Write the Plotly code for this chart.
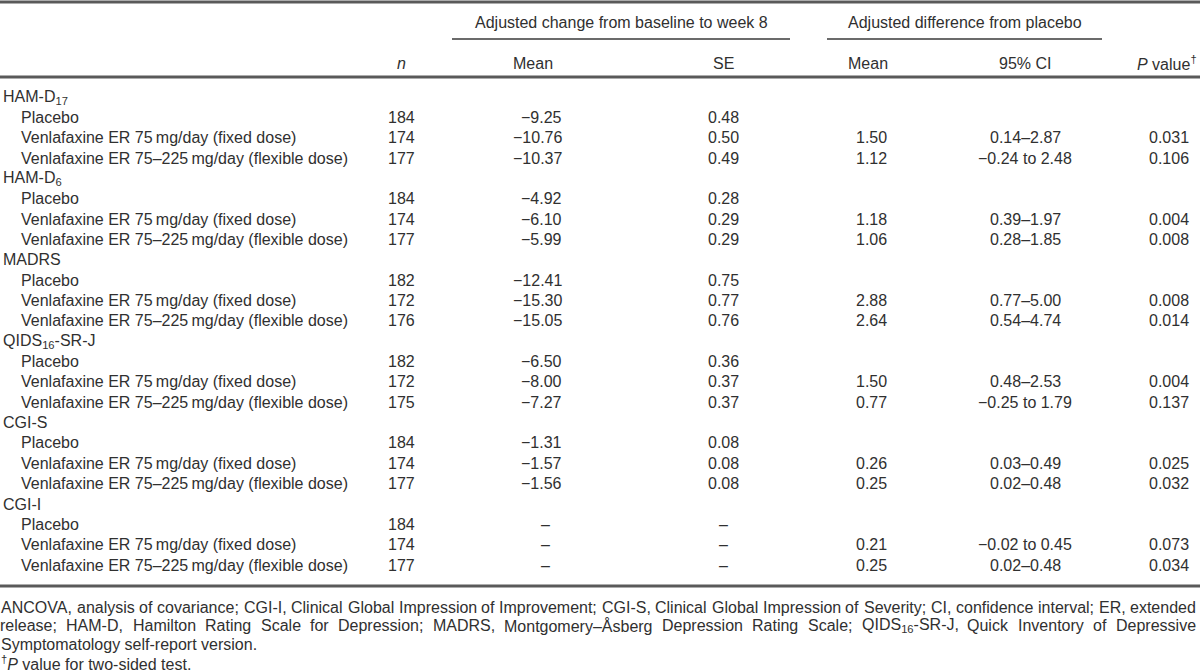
import re
import plotly.graph_objects as go

# ---------------- data ----------------
groups = ["HAM-D<sub>17</sub>", "HAM-D<sub>6</sub>", "MADRS",
          "QIDS<sub>16</sub>-SR-J", "CGI-S", "CGI-I"]
treatments = ["Placebo",
              "Venlafaxine ER 75\u2009mg/day (fixed dose)",
              "Venlafaxine ER 75\u2013225\u2009mg/day (flexible dose)"]
n_vals = [[184, 174, 177], [184, 174, 177], [182, 172, 176],
          [182, 172, 175], [184, 174, 177], [184, 174, 177]]
chg_mean = [["\u22129.25", "\u221210.76", "\u221210.37"],
            ["\u22124.92", "\u22126.10", "\u22125.99"],
            ["\u221212.41", "\u221215.30", "\u221215.05"],
            ["\u22126.50", "\u22128.00", "\u22127.27"],
            ["\u22121.31", "\u22121.57", "\u22121.56"],
            ["\u2013", "\u2013", "\u2013"]]
chg_se = [["0.48", "0.50", "0.49"],
          ["0.28", "0.29", "0.29"],
          ["0.75", "0.77", "0.76"],
          ["0.36", "0.37", "0.37"],
          ["0.08", "0.08", "0.08"],
          ["\u2013", "\u2013", "\u2013"]]
diff_mean = [["", "1.50", "1.12"],
             ["", "1.18", "1.06"],
             ["", "2.88", "2.64"],
             ["", "1.50", "0.77"],
             ["", "0.26", "0.25"],
             ["", "0.21", "0.25"]]
diff_ci = [["", "0.14\u20132.87", "\u22120.24 to 2.48"],
           ["", "0.39\u20131.97", "0.28\u20131.85"],
           ["", "0.77\u20135.00", "0.54\u20134.74"],
           ["", "0.48\u20132.53", "\u22120.25 to 1.79"],
           ["", "0.03\u20130.49", "0.02\u20130.48"],
           ["", "\u22120.02 to 0.45", "0.02\u20130.48"]]
p_vals = [["", "0.031", "0.106"],
          ["", "0.004", "0.008"],
          ["", "0.008", "0.014"],
          ["", "0.004", "0.137"],
          ["", "0.025", "0.032"],
          ["", "0.073", "0.034"]]

spanners = ["Adjusted change from baseline to week 8",
            "Adjusted difference from placebo"]
col_headers = ["<i>n</i>", "Mean", "SE", "Mean", "95% CI",
               "<i>P</i> value<sup>\u2020</sup>"]

footnote_lines = [
    "ANCOVA, analysis of covariance; CGI-I, Clinical Global Impression of Improvement; "
    "CGI-S, Clinical Global Impression of Severity; CI, confidence interval; ER, extended",
    "release; HAM-D, Hamilton Rating Scale for Depression; MADRS, Montgomery\u2013\u00c5sberg "
    "Depression Rating Scale; QIDS<sub>16</sub>-SR-J, Quick Inventory of Depressive",
    "Symptomatology self-report version.",
    "<sup>\u2020</sup><i>P</i> value for two-sided test.",
]

# ---------------- styling ----------------
FONT = "Liberation Sans, Arial, Helvetica, sans-serif"
FS = 16
TXT = "#303030"
RULE = "#5a5a5a"

W, H = 1200, 672
ROW0, ROWH = 97, 20.35
X_GROUP, X_SUB = 2, 20
X_N = 401          # center
X_MEAN_R = 563     # right edge
X_DASH = 545       # center for dash in mean col
X_SE = 723
X_DMEAN = 871
X_CI = 1025
X_P_R = 1190
Y_SPAN, Y_SPAN_LINE, Y_HEAD, Y_HEAD_RULE = 22, 39, 63, 77
Y_TOP_RULE = 2
Y_BOTTOM_RULE = 586
FOOT_Y = [607, 625.5, 644, 662.5]
SPAN1 = (452, 790)
SPAN2 = (827, 1102)

fig = go.Figure()


def txt(x, y, s, anchor="left", size=FS):
    fig.add_annotation(x=x, y=y, xref="x", yref="y", text=s, showarrow=False,
                       xanchor=anchor, yanchor="middle", borderpad=0,
                       font=dict(family=FONT, size=size, color=TXT))


def hline(x0, x1, y, width, color=RULE):
    fig.add_shape(type="line", xref="x", yref="y", x0=x0, x1=x1, y0=y, y1=y,
                  line=dict(color=color, width=width))


# rules
hline(0, W, Y_TOP_RULE, 3)
hline(0, W, Y_HEAD_RULE, 3)
hline(0, W, Y_BOTTOM_RULE, 3)
hline(SPAN1[0], SPAN1[1], Y_SPAN_LINE, 1.6, "#3a3a3a")
hline(SPAN2[0], SPAN2[1], Y_SPAN_LINE, 1.6, "#3a3a3a")

# headers
txt(sum(SPAN1) / 2, Y_SPAN, spanners[0], "center")
txt(sum(SPAN2) / 2, Y_SPAN, spanners[1], "center")
txt(X_N, Y_HEAD, col_headers[0], "center")
txt(533, Y_HEAD, col_headers[1], "center")
txt(X_SE, Y_HEAD, col_headers[2], "center")
txt(868, Y_HEAD, col_headers[3], "center")
txt(X_CI, Y_HEAD, col_headers[4], "center")
txt(1198, Y_HEAD, col_headers[5], "right")

# body
r = 0
for g, grp in enumerate(groups):
    txt(X_GROUP, ROW0 + r * ROWH, grp, "left")
    r += 1
    for t, trt in enumerate(treatments):
        y = ROW0 + r * ROWH
        txt(X_SUB, y, trt, "left")
        txt(X_N, y, str(n_vals[g][t]), "center")
        m = chg_mean[g][t]
        if m == "\u2013":
            txt(X_DASH, y, m, "center")
        else:
            txt(X_MEAN_R, y, m, "right")
        txt(X_SE, y, chg_se[g][t], "center")
        if diff_mean[g][t]:
            txt(X_DMEAN, y, diff_mean[g][t], "center")
            txt(X_CI, y, diff_ci[g][t], "center")
            txt(X_P_R, y, p_vals[g][t], "right")
        r += 1

# footnotes (first two lines justified)
AW = {' ': 278, ',': 278, ';': 278, '.': 278, '-': 333, '(': 333, ')': 333,
      '/': 278, '\u2013': 556, '\u00c5': 667,
      'A': 667, 'B': 667, 'C': 722, 'D': 722, 'E': 667, 'F': 611, 'G': 778,
      'H': 722, 'I': 278, 'J': 500, 'K': 667, 'L': 556, 'M': 833, 'N': 722,
      'O': 778, 'P': 667, 'Q': 778, 'R': 722, 'S': 667, 'T': 611, 'U': 722,
      'V': 667, 'W': 944, 'X': 667, 'Y': 667, 'Z': 611,
      'a': 556, 'b': 556, 'c': 500, 'd': 556, 'e': 556, 'f': 278, 'g': 556,
      'h': 556, 'i': 222, 'j': 222, 'k': 500, 'l': 222, 'm': 833, 'n': 556,
      'o': 556, 'p': 556, 'q': 556, 'r': 333, 's': 500, 't': 278, 'u': 556,
      'v': 500, 'w': 722, 'x': 500, 'y': 500, 'z': 500}


def word_width(w, size):
    total = 0.0
    for part in re.split(r"(<sub>.*?</sub>)", w):
        if part.startswith("<sub>"):
            inner = part[5:-6]
            total += sum(AW.get(c, 556) for c in inner) * 0.7
        else:
            total += sum(AW.get(c, 556) for c in part)
    return total * size / 1000


def justify(line, y, x0, x1, size):
    words = line.split(" ")
    widths = [word_width(w, size) for w in words]
    gap = (x1 - x0 - sum(widths)) / (len(words) - 1)
    x = x0
    for w, wd in zip(words, widths):
        txt(x + wd / 2, y, w, "center", size)
        x += wd + gap


justify(footnote_lines[0], FOOT_Y[0], 0, 1196, FS)
justify(footnote_lines[1], FOOT_Y[1], 0, 1196, FS)
txt(0, FOOT_Y[2], footnote_lines[2], "left")
txt(0, FOOT_Y[3], footnote_lines[3], "left")

fig.update_layout(
    width=W, height=H, margin=dict(l=0, r=0, t=0, b=0),
    paper_bgcolor="white", plot_bgcolor="white", showlegend=False,
    xaxis=dict(range=[0, W], visible=False, fixedrange=True),
    yaxis=dict(range=[H, 0], visible=False, fixedrange=True),
)

fig.write_html("out.html", config={"displayModeBar": False},
               post_script="document.body.style.margin='0';document.body.style.overflow='hidden';")
